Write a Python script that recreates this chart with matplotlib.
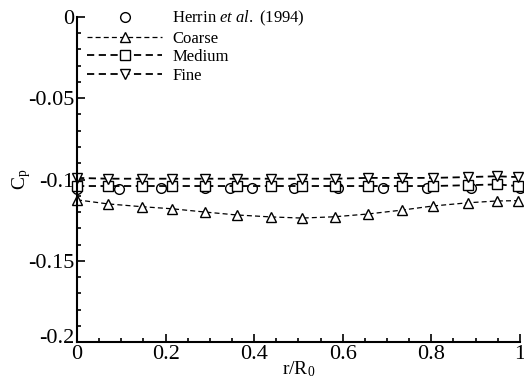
import numpy as np
import matplotlib.pyplot as plt
import matplotlib.transforms as mtransforms

plt.rcParams['font.family'] = ['Liberation Serif', 'DejaVu Serif']
plt.rcParams['mathtext.fontset'] = 'custom'
plt.rcParams['mathtext.rm'] = 'Liberation Serif'
plt.rcParams['mathtext.it'] = 'Liberation Serif:italic'

# data
x_herrin = [0.0, 0.095, 0.19, 0.29, 0.345, 0.395, 0.49, 0.59, 0.69, 0.79, 0.89, 1.0]
cp_herrin = [-0.106, -0.106, -0.1055, -0.1055, -0.105, -0.105, -0.1055, -0.1055, -0.105, -0.105, -0.105, -0.105]

x_sim = [0.0, 0.07, 0.146, 0.215, 0.289, 0.361, 0.438, 0.508, 0.582, 0.657, 0.734, 0.803, 0.883, 0.948, 0.995]
cp_coarse = [-0.1125, -0.115, -0.1167, -0.118, -0.120, -0.1218, -0.123, -0.1237, -0.1229, -0.1212,
             -0.1188, -0.1163, -0.1143, -0.1132, -0.113]
cp_medium = [-0.104, -0.104, -0.104, -0.104, -0.104, -0.104, -0.104, -0.104, -0.104, -0.104,
             -0.104, -0.104, -0.1035, -0.103, -0.104]
cp_fine = [-0.099, -0.0995, -0.0995, -0.0995, -0.0995, -0.0995, -0.0995, -0.0995, -0.0995, -0.099,
           -0.099, -0.099, -0.0985, -0.098, -0.0985]

fig = plt.figure(figsize=(5.24, 3.84), dpi=100)
ax = fig.add_axes([0.147, 0.109, 0.845, 0.847])

mk = dict(color='black', markerfacecolor='white', markersize=7, markeredgewidth=1.0, clip_on=False)
ax.plot(x_herrin, cp_herrin, linestyle='none', marker='o', label=r'Herrin $\it{et\ al.}$ (1994)', **mk)
ax.plot(x_sim, cp_coarse, linestyle=(0, (4, 2.5)), linewidth=0.9, marker='^', label='Coarse', **mk)
ax.plot(x_sim, cp_medium, linestyle=(0, (4, 2.5)), linewidth=1.3, marker='s', label='Medium', **mk)
ax.plot(x_sim, cp_fine, linestyle=(0, (4, 2.5)), linewidth=1.3, marker='v', label='Fine', **mk)

ax.set_xlim(0, 1)
ax.set_ylim(-0.2, 0)
ax.set_xticks([0, 0.2, 0.4, 0.6, 0.8, 1])
ax.set_xticklabels(['0', '0.2', '0.4', '0.6', '0.8', '1'])
ax.set_yticks([-0.2, -0.15, -0.1, -0.05, 0])
ax.set_yticklabels(['-0.2', '-0.15', '-0.1', '-0.05', '0'])
ax.set_xticks(np.arange(0, 1.001, 0.05), minor=True)
ax.set_yticks(np.arange(-0.2, 0.001, 0.01), minor=True)
ax.tick_params(which='both', direction='in', labelsize=16, width=1.2)
ax.tick_params(which='major', length=6, pad=2)
ax.tick_params(which='minor', length=3)
for s in ['top', 'right']:
    ax.spines[s].set_visible(False)
for s in ['left', 'bottom']:
    ax.spines[s].set_linewidth(1.5)

# raise the -0.2 label a bit so it clears the x-axis 0
lab = ax.get_yticklabels()[0]
lab.set_transform(lab.get_transform() + mtransforms.ScaledTranslation(0, 0.06, fig.dpi_scale_trans))

ax.set_xlabel(r'r/R$_\mathrm{0}$', fontsize=14, labelpad=-3)
ax.set_ylabel(r'C$_\mathrm{p}$', fontsize=14, labelpad=-4)

ax.legend(loc='upper left', bbox_to_anchor=(0.0, 1.055), frameon=False, fontsize=12,
          handlelength=4.5, handletextpad=0.6, labelspacing=0.15, borderaxespad=0.2)

fig.savefig('out.png', dpi=100)
